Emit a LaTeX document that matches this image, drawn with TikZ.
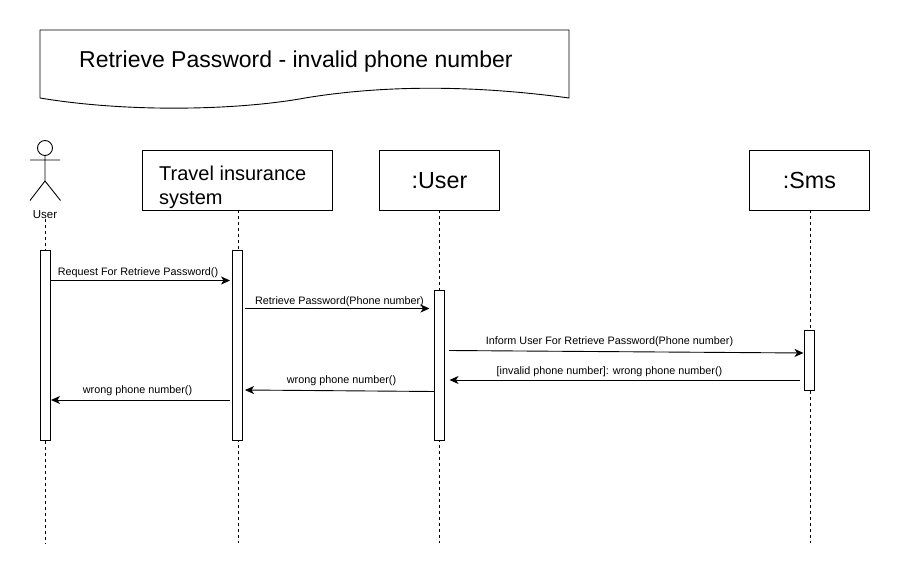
\documentclass[tikz,border=0pt]{standalone}
\usepackage{fontspec}
\setmainfont{Liberation Sans}
\usetikzlibrary{arrows.meta}
\tikzset{
  x=1pt,y=-1pt,
  line/.style={line width=0.9pt,black},
  box/.style={draw,line width=0.9pt,fill=white,minimum width=120pt,minimum height=60pt,inner sep=0pt,outer sep=0pt,font=\fontsize{23.3}{28}\selectfont},
  bar/.style={draw,line width=0.9pt,fill=white,minimum width=10pt,inner sep=0pt,outer sep=0pt},
  life/.style={line width=0.8pt,dash pattern=on 3pt off 3pt},
  msg/.style={line width=0.9pt,-{Stealth[length=9pt,width=8pt,inset=2.5pt]}},
  lbl/.style={font=\fontsize{10.8}{12}\selectfont,inner sep=0pt},
}
\begin{document}
\begin{tikzpicture}
\useasboundingbox (0,0) rectangle (900,572);
% title
\draw[line] (40,30) -- (569,30) -- (569,98) .. controls (480,86) and (390,84) .. (305,98) .. controls (240,110) and (130,113) .. (40,98) -- cycle;
\node[anchor=west,inner sep=0pt,font=\fontsize{23}{28}\selectfont] (title) at (79,62) {Retrieve Password - invalid phone number};
% lifeline ends
\coordinate (e1) at (45,543);
\coordinate (e2) at (238,543);
\coordinate (e3) at (439,543);
\coordinate (e4) at (810,543);
\node[inner sep=0pt,font=\fontsize{11.5}{13}\selectfont] (actor) at (45,214.5) {User};
\node[box,minimum width=190pt] (sys) at (237.5,180.5) {};
\node[anchor=west,align=left,inner sep=0pt,font=\fontsize{20}{24}\selectfont] (systext) at (159,187) {Travel insurance\\system};
\node[box] (user) at (439.5,180.5) {:User};
\node[box] (sms) at (809.5,180.5) {:Sms};
\draw[life] (actor.south) -- (e1);
\draw[life] (sys.south -| e2) -- (e2);
\draw[life] (user.south -| e3) -- (e3);
\draw[life] (sms.south -| e4) -- (e4);
% actor figure
\draw[line] (45,148) ellipse [x radius=7.5pt,y radius=7.5pt];
\draw[line] (45,155.5) -- (45,181) (30,160) -- (60,160) (45,181) -- (30,200.5) (45,181) -- (60.5,200.5);
% activation bars
\node[bar,minimum height=190pt] (b1) at (45.5,345) {};
\node[bar,minimum height=190pt] (b2) at (237.5,345) {};
\node[bar,minimum height=150pt] (b3) at (439.5,365) {};
\node[bar,minimum height=60pt] (b4) at (809.5,360) {};
% messages
\coordinate (m1e) at (230,280.5);
\draw[msg] (b1.east |- m1e) -- (m1e);
\node[lbl] (l1) at (138,272.5) {Request For Retrieve Password()};
\coordinate (m2s) at (245,308.5);
\coordinate (m2e) at (429.5,308.5);
\draw[msg] (m2s) -- (m2e);
\node[lbl] (l2) at (339.5,302) {Retrieve Password(Phone number)};
\coordinate (m3s) at (449,350.5);
\coordinate (m3e) at (803.5,353);
\draw[msg] (m3s) -- (m3e);
\node[lbl] (l3) at (609.5,342) {Inform User For Retrieve Password(Phone number)};
\coordinate (m4s) at (800,380);
\coordinate (m4e) at (449.5,380);
\draw[msg] (m4s) -- (m4e);
\node[lbl] (l4) at (609.5,372) {[invalid phone number]: wrong phone number()};
\coordinate (m5s) at (434.5,391.5);
\coordinate (m5e) at (245,390);
\draw[msg] (b3.west |- m5s) -- (m5e);
\node[lbl] (l5) at (341.5,381) {wrong phone number()};
\coordinate (m6s) at (230,400);
\coordinate (m6e) at (51,400);
\draw[msg] (m6s) -- (m6e);
\node[lbl] (l6) at (137.5,391) {wrong phone number()};
\end{tikzpicture}
\end{document}
